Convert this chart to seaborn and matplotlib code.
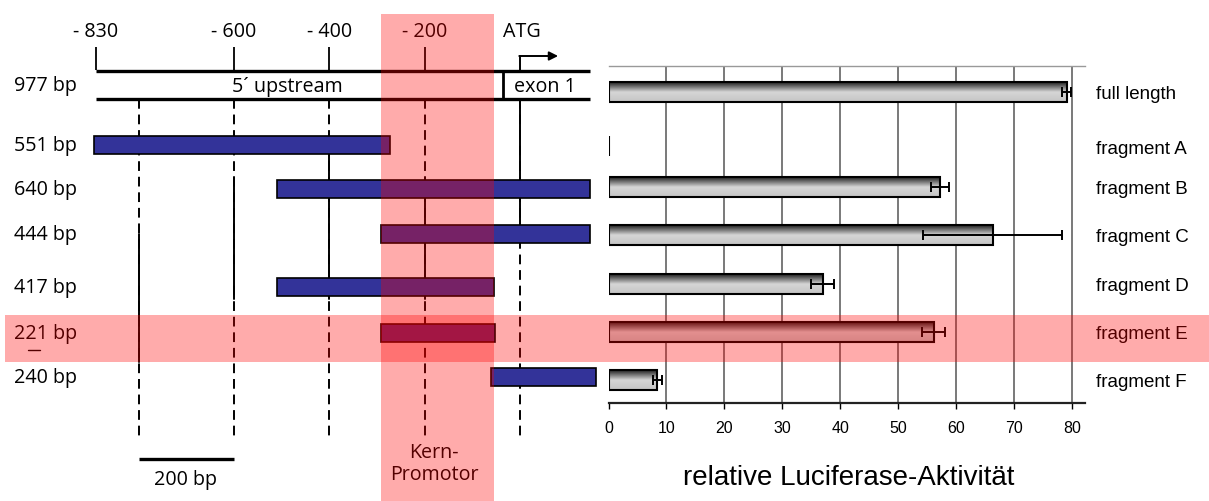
import numpy as np
import pandas as pd
import matplotlib
matplotlib.use("Agg")
import matplotlib.pyplot as plt
import seaborn as sns
from matplotlib.colors import LinearSegmentedColormap

# ---------------- data ----------------
size_labels = ['977 bp', '551 bp', '640 bp', '444 bp', '417 bp', '221 bp', '240 bp']
constructs = ['full length', 'fragment A', 'fragment B', 'fragment C',
              'fragment D', 'fragment E', 'fragment F']
frag_start = [-890, -893, -509, -292, -509, -292, -60]   # bp relative to ATG (schematic)
frag_end = [147, -273, 147, 147, -54, -52, 159]
activity = [79.1, 0.15, 57.2, 66.3, 37.0, 56.1, 8.4]
activity_err = [0.8, 0.0, 1.5, 12.0, 2.0, 1.9, 0.75]
position_ticks = [-890, -600, -400, -200]
position_labels = ['- 830', '- 600', '- 400', '- 200']
guide_positions = [-800, -600, -400, -200, 0]
exon_start = -36
core_promoter = (-292, -55)
scale_bar = (-800, -600)
activity_ticks = [0, 10, 20, 30, 40, 50, 60, 70, 80]

# ---------------- layout ----------------
W, H = 1209, 502
PX_PER_BP = 0.4765
ATG_PX = 520


def bp_x(px):
    return (px - ATG_PX) / PX_PER_BP


rows_left = [86, 146, 190, 235, 288, 334, 378]
rows_right = [92.5, 147, 188, 236, 285, 333, 381]
solid_segments = [(235, 363), (178, 300), (155, 300), (178, 300), (100, 242)]

sns.set_theme(style="white")
plt.rcParams['font.family'] = ['Liberation Sans', 'DejaVu Sans']
plt.rcParams['text.color'] = 'black'
plt.rcParams['axes.labelcolor'] = 'black'
plt.rcParams['xtick.color'] = 'black'
plt.rcParams['ytick.color'] = 'black'
LEFT_FONT = ['Open Sans', 'DejaVu Sans']
LEFT_SIZE = 14.2

fig = plt.figure(figsize=(W / 100, H / 100), dpi=100)

# ---------------- bar chart ----------------
axb = fig.add_axes([608.5 / W, (H - 404) / H, (1085 - 608.5) / W, 337 / H])
df = pd.DataFrame({'construct': constructs, 'activity': activity, 'row': rows_right})
sns.barplot(data=df, x='activity', y='row', orient='h', native_scale=True,
            width=20 / 41, color='#cccccc', edgecolor='black', linewidth=1.5,
            errorbar=None, ax=axb)

cmap = LinearSegmentedColormap.from_list(
    'bargrad', [(0, '#1e1e1e'), (0.5, '#d6d6d6'), (1, '#c4c4c4')])
grad = np.linspace(0, 1, 256).reshape(-1, 1)
for p in list(axb.patches):
    x0, y0 = p.get_x(), p.get_y()
    w, h = p.get_width(), p.get_height()
    im = axb.imshow(grad, cmap=cmap, aspect='auto', origin='upper',
                    extent=[x0, x0 + w, y0 + h, y0], zorder=2, interpolation='bilinear')
    im.set_clip_path(p)
    p.set_facecolor('none')
    p.set_zorder(3)

axb.errorbar(activity, rows_right, xerr=activity_err, fmt='none', ecolor='black',
             elinewidth=1.4, capsize=3.5, capthick=1.4, zorder=4)

axb.set_xlim(0, 82.25)
axb.set_ylim(404, 67)
axb.set_xticks(activity_ticks)
axb.set_xticklabels([str(t) for t in activity_ticks])
axb.grid(axis='x', color='#555555', lw=1.1)
axb.grid(axis='y', visible=False)
axb.set_axisbelow(True)
axb.get_xgridlines()[0].set_visible(False)
axb.yaxis.tick_right()
axb.set_yticks(rows_right)
axb.set_yticklabels(constructs, fontsize=13.5)
axb.tick_params(axis='y', length=0, pad=8)
axb.tick_params(axis='x', direction='out', length=4, width=1, color='black',
                labelsize=11.5, pad=8, bottom=True)
for lbl in axb.get_xticklabels():
    lbl.set_family(['Liberation Sans Narrow', 'Liberation Sans'])
axb.set_ylabel('')
axb.set_xlabel('relative Luciferase-Aktivität', fontsize=20)
axb.xaxis.label.set_va('baseline')
axb.xaxis.set_label_coords((849 - 608.5) / 476.5, (404 - 485) / 337)
for s in ['left', 'right']:
    axb.spines[s].set_visible(False)
axb.spines['top'].set_color('#999999')
axb.spines['top'].set_linewidth(1)
axb.spines['bottom'].set_color('#222222')
axb.spines['bottom'].set_linewidth(1.6)

# ---------------- schematic ----------------
axs = fig.add_axes([0, 0, 1, 1])
axs.set_xlim(bp_x(0), bp_x(W))
axs.set_ylim(H, 0)
axs.axis('off')

# gene
axs.hlines([72, 100], frag_start[0], frag_end[0], color='black', lw=2.4, zorder=3)
axs.vlines(exon_start, 72, 100, color='black', lw=2, zorder=3)
axs.vlines(position_ticks, 48, 71, color='black', lw=1.3)
for p, l in zip(position_ticks, position_labels):
    axs.text(p, 32, l, ha='center', va='center', fontsize=LEFT_SIZE, family=LEFT_FONT)
axs.text(4, 32, 'ATG', ha='center', va='center', fontsize=LEFT_SIZE, family=LEFT_FONT)
axs.plot([0, 0], [72, 57], color='black', lw=1.4)
axs.annotate('', xy=(80, 57), xytext=(-1.5, 57),
             arrowprops=dict(arrowstyle='-|>', lw=1.4, color='black', mutation_scale=13,
                             shrinkA=0, shrinkB=0))
axs.text(bp_x(287), 87, '5´ upstream', ha='center', va='center', fontsize=LEFT_SIZE, family=LEFT_FONT)
axs.text(bp_x(545), 87, 'exon 1', ha='center', va='center', fontsize=LEFT_SIZE, family=LEFT_FONT)

# guide lines
axs.vlines(guide_positions, 100, 437, color='black', lw=1.4, linestyles=(0, (5, 3)), zorder=1)
for gx, (y0, y1) in zip(guide_positions, solid_segments):
    axs.plot([gx, gx], [y0, y1], color='black', lw=1.4, zorder=1)

# fragments
axs.barh(rows_left[1:], np.subtract(frag_end[1:], frag_start[1:]), left=frag_start[1:],
         height=18, color='#333399', edgecolor='black', lw=1.2, zorder=3)

for r, l in zip(rows_left, size_labels):
    axs.text(bp_x(14), r, l, ha='left', va='center', fontsize=LEFT_SIZE, family=LEFT_FONT)
axs.plot([bp_x(28), bp_x(40)], [351, 351], color='black', lw=1)

# scale bar
axs.plot(list(scale_bar), [460, 460], color='black', lw=2.4, solid_capstyle='butt')
axs.text(bp_x(186), 480, '200 bp', ha='center', va='center', fontsize=LEFT_SIZE, family=LEFT_FONT)

axs.text(bp_x(434), 464, 'Kern-\nPromotor', ha='center', va='center', fontsize=LEFT_SIZE,
         family=LEFT_FONT, linespacing=1.15)

# highlight overlays
axs.axvspan(core_promoter[0], core_promoter[1], ymin=0, ymax=(H - 15) / H,
            color='red', alpha=0.33, lw=0, zorder=10)
axs.axhspan(316, 363, xmin=5 / W, xmax=1, color='red', alpha=0.33, lw=0, zorder=10)

fig.savefig('out.png', dpi=100)
